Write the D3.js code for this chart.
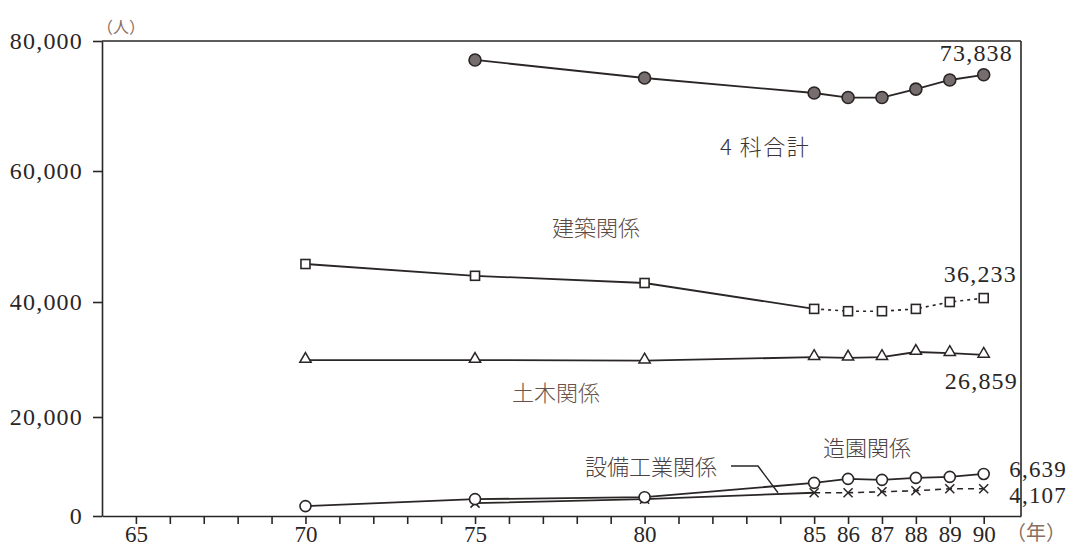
<!DOCTYPE html>
<html><head><meta charset="utf-8">
<script src="https://cdn.jsdelivr.net/npm/d3@7"></script>
<style>
html,body{margin:0;padding:0;background:#fff;}
svg{display:block;}
</style></head>
<body>
<svg id="chart" width="1071" height="548"></svg>
<script>
// ---- data ----
const years = [70, 75, 80, 85, 86, 87, 88, 89, 90];
const total4   = [null, 77080, 74310, 72000, 71300, 71300, 72600, 74000, 74800];
const kenchiku = [45800, 44000, 42900, 38800, 38400, 38400, 38800, 40000, 40600];
const doboku   = [29900, 29900, 29800, 30400, 30300, 30400, 31300, 31100, 30800];
const zoen     = [2000, 3400, 3800, 6700, 7500, 7300, 7700, 7900, 8500];
const setsubi  = [null, 2600, 3400, 4700, 4700, 4900, 5100, 5500, 5500];
const yTicks = [0, 20000, 40000, 60000, 80000];
const xMinorTicks = d3.range(65, 91);
const xLabels = [65, 70, 75, 80, 85, 86, 87, 88, 89, 90];
const endLabels = ["73,838", "36,233", "26,859", "6,639", "4,107"];
const seriesNames = ["4 科合計", "建築関係", "土木関係", "造園関係", "設備工業関係"];

// ---- scales ----
const x = d3.scaleLinear().domain([64, 91.1]).range([102, 1021]);
const y = d3.scaleLinear().domain([0, 20000, 40000, 60000, 80000]).range([516, 417, 302, 171, 41]);

const svg = d3.select("#chart");
const serif = "'Liberation Serif','Times New Roman',serif";
const cjk = "'Noto Sans CJK JP','Noto Sans CJK SC',sans-serif";
const ink = "#2a2626";

// axes
const yAxis = d3.axisLeft(y).tickValues(yTicks).tickSize(9).tickSizeOuter(0).tickPadding(10).tickFormat(d3.format(","));
const gy = svg.append("g").attr("transform", `translate(${x(64)},0)`).call(yAxis);
gy.select(".domain").attr("stroke", ink).attr("stroke-width", 1.6);
gy.selectAll(".tick line").attr("stroke", ink).attr("stroke-width", 1.6);
gy.selectAll(".tick text").attr("font-family", serif).attr("font-size", 24).attr("fill", ink)
  .attr("letter-spacing", 1.2);

const xAxis = d3.axisBottom(x).tickValues(xMinorTicks).tickSize(8).tickSizeOuter(0).tickPadding(2)
  .tickFormat(d => xLabels.includes(d) ? String(d) : "");
const gx = svg.append("g").attr("transform", `translate(0,${y(0)})`).call(xAxis);
gx.select(".domain").attr("stroke", ink).attr("stroke-width", 1.6);
gx.selectAll(".tick line").attr("stroke", ink).attr("stroke-width", 1.6);
gx.selectAll(".tick text").attr("font-family", serif).attr("font-size", 23).attr("fill", ink);

// frame top & right
svg.append("line").attr("x1", x(64)).attr("x2", x(91.1)).attr("y1", y(80000)).attr("y2", y(80000))
  .attr("stroke", ink).attr("stroke-width", 1.6);
svg.append("line").attr("x1", x(91.1)).attr("x2", x(91.1)).attr("y1", y(80000)).attr("y2", y(0))
  .attr("stroke", ink).attr("stroke-width", 1.6);

// unit labels
svg.append("text").attr("x", x(64) - 5).attr("y", 33).text("（人）")
  .attr("font-family", cjk).attr("font-size", 16).attr("fill", "#8a6e5e");
svg.append("text").attr("x", 1006).attr("y", 540).text("（年）")
  .attr("font-family", cjk).attr("font-size", 20).attr("fill", "#8a6e5e");

// ---- series ----
function pts(vals) { return years.map((yr, i) => ({yr, v: vals[i]})).filter(d => d.v != null); }
const line = d3.line().x(d => x(d.yr)).y(d => y(d.v));

function drawLine(vals, splitYear, dash) {
  const p = pts(vals);
  const solid = splitYear ? p.filter(d => d.yr <= splitYear) : p;
  svg.append("path").attr("d", line(solid)).attr("fill", "none").attr("stroke", ink).attr("stroke-width", 1.8);
  if (splitYear) {
    const dashed = p.filter(d => d.yr >= splitYear);
    svg.append("path").attr("d", line(dashed)).attr("fill", "none").attr("stroke", ink)
      .attr("stroke-width", 1.6).attr("stroke-dasharray", dash);
  }
}
drawLine(total4);
drawLine(kenchiku, 85, "3,4");
drawLine(doboku);
drawLine(zoen);
drawLine(setsubi, 85, "6,5");

// markers
svg.append("g").selectAll("circle").data(pts(total4)).join("circle")
  .attr("cx", d => x(d.yr)).attr("cy", d => y(d.v)).attr("r", 6)
  .attr("fill", "#766e6e").attr("stroke", "#2a2424").attr("stroke-width", 1.6);

svg.append("g").selectAll("rect").data(pts(kenchiku)).join("rect")
  .attr("x", d => x(d.yr) - 4.5).attr("y", d => y(d.v) - 4.5).attr("width", 9).attr("height", 9)
  .attr("fill", "#fff").attr("stroke", ink).attr("stroke-width", 1.6);

const tri = d3.symbol().type(d3.symbolTriangle).size(55);
svg.append("g").selectAll("path").data(pts(doboku)).join("path")
  .attr("d", tri).attr("transform", d => `translate(${x(d.yr)},${y(d.v) - 1})`)
  .attr("fill", "#fff").attr("stroke", ink).attr("stroke-width", 1.5);

svg.append("g").selectAll("path").data(pts(setsubi)).join("path")
  .attr("d", d3.symbol().type(d3.symbolX).size(55)).attr("transform", d => `translate(${x(d.yr)},${y(d.v)})`)
  .attr("fill", "none").attr("stroke", ink).attr("stroke-width", 1.5);

svg.append("g").selectAll("circle").data(pts(zoen)).join("circle")
  .attr("cx", d => x(d.yr)).attr("cy", d => y(d.v)).attr("r", 5.5)
  .attr("fill", "#fff").attr("stroke", ink).attr("stroke-width", 1.6);

// end value labels
const endPos = [[1013, 61], [1017, 282], [1018, 389], [1067, 477], [1067, 503]];
svg.append("g").selectAll("text").data(endLabels).join("text")
  .attr("x", (d, i) => endPos[i][0]).attr("y", (d, i) => endPos[i][1])
  .attr("text-anchor", "end").attr("font-family", serif).attr("font-size", (d, i) => i >= 3 ? 23 : 24)
  .attr("letter-spacing", 1.2).attr("fill", ink).text(d => d);

// series name labels
const namePos = [[720, 155], [552, 236], [512, 401], [823, 456], [585, 475]];
const nameColor = ["#3a3434", "#5a4a42", "#6a5248", "#4a4040", "#4a4040"];
svg.append("g").selectAll("text").data(seriesNames).join("text")
  .attr("x", (d, i) => namePos[i][0]).attr("y", (d, i) => namePos[i][1])
  .attr("font-family", cjk).attr("font-size", 22).attr("font-weight", 300)
  .attr("letter-spacing", (d, i) => i === 0 ? 1.5 : 0)
  .attr("fill", (d, i) => nameColor[i]).text(d => d);

// leader for 設備工業関係
svg.append("path").attr("d", d3.line()([[731, 466], [758, 466], [778, y(setsubi[3])]]))
  .attr("fill", "none").attr("stroke", ink).attr("stroke-width", 1.4);
</script>
</body></html>
